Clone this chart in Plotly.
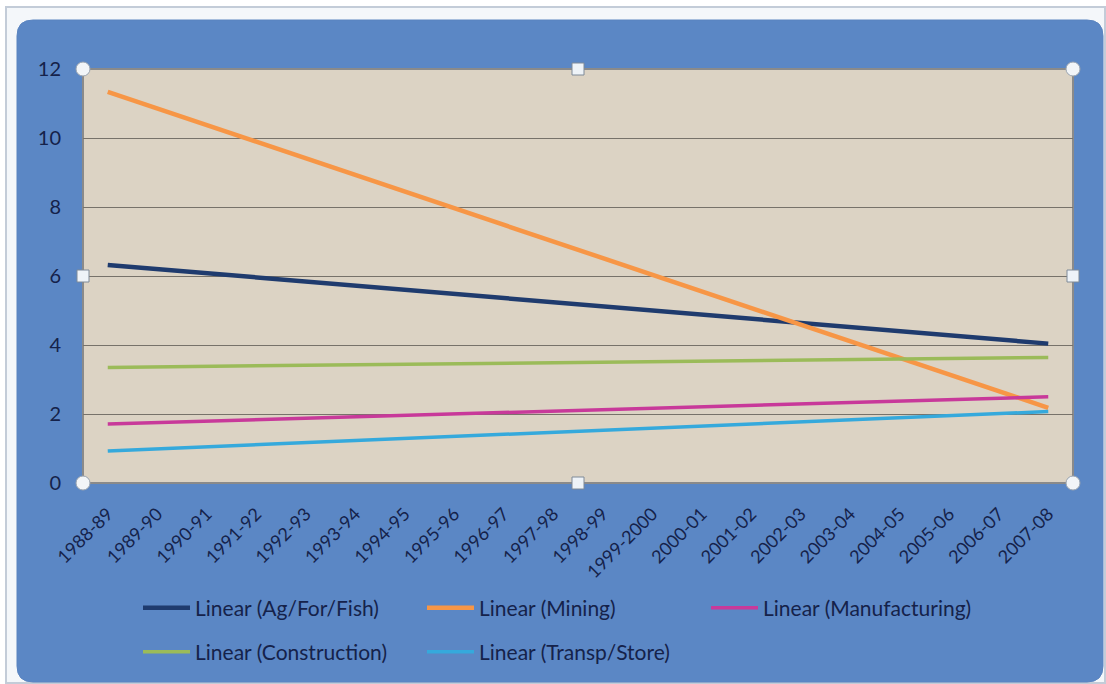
import plotly.graph_objects as go

categories = ["1988-89", "1989-90", "1990-91", "1991-92", "1992-93", "1993-94", "1994-95",
              "1995-96", "1996-97", "1997-98", "1998-99", "1999-2000", "2000-01", "2001-02",
              "2002-03", "2003-04", "2004-05", "2005-06", "2006-07", "2007-08"]

series_names = ["Linear (Ag/For/Fish)", "Linear (Mining)", "Linear (Manufacturing)",
                "Linear (Construction)", "Linear (Transp/Store)"]
# trend line end points (first and last year)
ag_for_fish = [6.32, 4.04]
mining = [11.34, 2.18]
manufacturing = [1.71, 2.50]
construction = [3.35, 3.64]
transp_store = [0.93, 2.07]

y_ticks = [0, 2, 4, 6, 8, 10, 12]

colors = ["#1F3B6E", "#F79646", "#C8399A", "#9BBB59", "#35A9DC"]
widths = [4.5, 4.5, 3.5, 3.5, 3.5]
legend_ids = ["legend", "legend", "legend", "legend2", "legend2"]
values = [ag_for_fish, mining, manufacturing, construction, transp_store]

fig = go.Figure()
endpoints = [categories[0], categories[-1]]
for name, vals, c, w, lg in zip(series_names, values, colors, widths, legend_ids):
    fig.add_trace(go.Scatter(x=endpoints, y=vals, mode="lines", name=name,
                             line=dict(color=c, width=w), legend=lg))

W, H = 1106, 684
L, R, T, B = 83, 1073, 69, 483

def px(x):
    return (x - L) / (R - L)

def py(y):
    return (B - y) / (B - T)

def rounded_rect(x0, y0, x1, y1, r):
    rx = r / (R - L)
    ry = r / (B - T)
    X0, X1 = px(x0), px(x1)
    Y0, Y1 = py(y0), py(y1)
    return (f"M {X0+rx},{Y0} L {X1-rx},{Y0} Q {X1},{Y0} {X1},{Y0-ry} "
            f"L {X1},{Y1+ry} Q {X1},{Y1} {X1-rx},{Y1} L {X0+rx},{Y1} "
            f"Q {X0},{Y1} {X0},{Y1+ry} L {X0},{Y0-ry} Q {X0},{Y0} {X0+rx},{Y0} Z")

shapes = []
shapes.append(dict(type="rect", xref="paper", yref="paper", x0=px(6), x1=px(1105), y0=py(683), y1=py(7),
                   line=dict(color="#C3CCD8", width=2), fillcolor="#F4F7FA", layer="below"))
shapes.append(dict(type="path", xref="paper", yref="paper", path=rounded_rect(17, 20, 1103, 682, 16),
                   line=dict(color="#5A84C0", width=1), fillcolor="#5B87C5", layer="below"))
shapes.append(dict(type="rect", xref="paper", yref="paper", x0=0, x1=1, y0=0, y1=1,
                   line=dict(color="#8A8A8A", width=2), fillcolor="#DCD3C4", layer="below"))

for hx, hy in [(L, T), (R, T), (L, B), (R, B)]:
    shapes.append(dict(type="circle", xref="paper", yref="paper",
                       x0=px(hx - 7), x1=px(hx + 7), y0=py(hy + 7), y1=py(hy - 7),
                       line=dict(color="#9AA4B0", width=1), fillcolor="#F2F5F8", layer="above"))
mx, my = (L + R) / 2, (T + B) / 2
for hx, hy in [(mx, T), (mx, B), (L, my), (R, my)]:
    shapes.append(dict(type="rect", xref="paper", yref="paper",
                       x0=px(hx - 6), x1=px(hx + 6), y0=py(hy + 6), y1=py(hy - 6),
                       line=dict(color="#7F8A98", width=1), fillcolor="#EEF3F8", layer="above"))

font_family = "Lato, 'Open Sans', sans-serif"
text_color = "#15224A"

legend_common = dict(orientation="h", xanchor="left", yanchor="middle",
                     entrywidth=222, entrywidthmode="pixels",
                     font=dict(size=21, color=text_color, family=font_family),
                     bgcolor="rgba(0,0,0,0)", itemwidth=47)

fig.update_layout(
    width=W, height=H,
    margin=dict(l=L, r=W - R, t=T, b=H - B),
    paper_bgcolor="white",
    plot_bgcolor="rgba(0,0,0,0)",
    shapes=shapes,
    font=dict(family=font_family, color=text_color),
    xaxis=dict(type="category", categoryorder="array", categoryarray=categories,
               range=[-0.5, len(categories) - 0.5], tickangle=-45,
               tickfont=dict(size=18, color=text_color, family=font_family),
               showgrid=False, zeroline=False, showline=False, ticks="", ticklabelstandoff=16),
    yaxis=dict(range=[0, 12], tickvals=y_ticks, ticktext=[str(v) for v in y_ticks],
               tickfont=dict(size=20, color=text_color, family=font_family),
               showgrid=True, gridcolor="#77726A", gridwidth=1, zeroline=False,
               showline=False, ticks="", ticklabelstandoff=21),
    legend=dict(x=px(138), y=py(608), **legend_common),
    legend2=dict(x=px(138), y=py(652), **legend_common),
    showlegend=True,
)

fig.write_html("out.html")
